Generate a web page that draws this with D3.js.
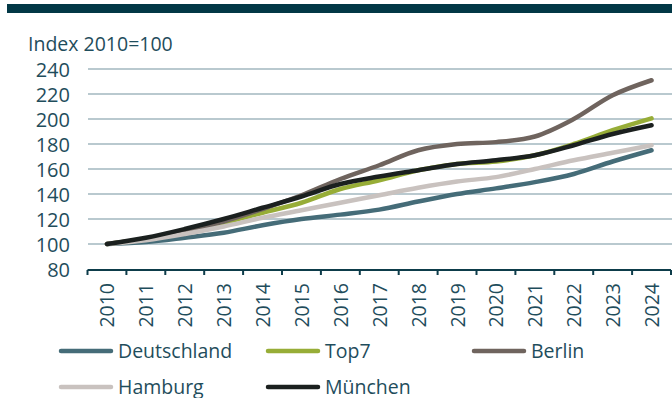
<!DOCTYPE html>
<html>
<head>
<meta charset="utf-8">
<script src="https://cdn.jsdelivr.net/npm/d3@7"></script>
<style>
  html, body { margin: 0; padding: 0; background: #fff; }
  svg { display: block; font-family: "Open Sans", sans-serif; }
</style>
</head>
<body>
<svg id="chart" width="672" height="398"></svg>
<script>
// Price index per market, 2010 = 100
const years = ["2010","2011","2012","2013","2014","2015","2016","2017","2018","2019","2020","2021","2022","2023","2024"];
const deutschland = [100, 101.5, 105, 109, 115, 120, 123.5, 127.5, 134, 140, 144.5, 149.5, 156, 166, 175];
const top7        = [100, 104, 110, 117, 125, 133, 144, 151, 159, 164, 166, 171, 180, 191, 200.5];
const berlin      = [100, 104, 110, 118, 128, 139, 152, 163, 175, 180, 181.5, 186, 200, 219, 231];
const hamburg     = [100, 103, 108, 114, 121, 127, 133, 139, 145, 150, 153.5, 160, 167, 173, 179];
const muenchen    = [100, 105, 112, 120, 129, 138, 148, 154, 159, 164, 167, 171, 179, 188, 195];
const yTicks = [80, 100, 120, 140, 160, 180, 200, 220, 240];

const seriesNames  = ["Deutschland", "Top7", "Berlin", "Hamburg", "München"];
const seriesValues = [deutschland, top7, berlin, hamburg, muenchen];
const seriesColors = ["#456c78", "#97ad37", "#6f645e", "#c9c2bf", "#1b201f"];

const svg = d3.select("#chart");
const textColor = "#1f4d5c";

// header band
svg.append("rect").attr("x", 7).attr("y", 4).attr("width", 665).attr("height", 9).attr("fill", "#023846");

// axis title
svg.append("text").attr("x", 28).attr("y", 51)
  .attr("font-size", 19.5).attr("fill", textColor).text("Index 2010=100");

const x = d3.scaleBand().domain(years).range([87.5, 671]);
const y = d3.scaleLinear().domain([80, 240]).range([269, 69]);

// gridlines
svg.append("g").selectAll("line").data(yTicks.filter(d => d > 80)).join("line")
  .attr("x1", 88).attr("x2", 672)
  .attr("y1", d => y(d)).attr("y2", d => y(d))
  .attr("stroke", "#a2b7bf").attr("stroke-width", 1.4);

// y tick labels
svg.append("g").selectAll("text").data(yTicks).join("text")
  .attr("x", 70).attr("y", d => y(d))
  .attr("text-anchor", "end").attr("dominant-baseline", "central")
  .attr("font-size", 20).attr("fill", textColor)
  .text(d => d);

// x axis with ticks at band edges
const xAxis = svg.append("g");
xAxis.append("line").attr("x1", 87.5).attr("x2", 671).attr("y1", 270).attr("y2", 270)
  .attr("stroke", "#0d3c4a").attr("stroke-width", 2);
const edges = years.map(d => x(d)).concat([x(years[years.length - 1]) + x.bandwidth()]);
xAxis.selectAll("line.tick").data(edges).join("line").attr("class", "tick")
  .attr("x1", d => d).attr("x2", d => d).attr("y1", 270).attr("y2", 275)
  .attr("stroke", "#0d3c4a").attr("stroke-width", 2);
xAxis.selectAll("text").data(years).join("text")
  .attr("transform", d => `translate(${x(d) + x.bandwidth() / 2},283) rotate(-90)`)
  .attr("text-anchor", "end").attr("dominant-baseline", "central")
  .attr("font-size", 19.5).attr("fill", textColor)
  .text(d => d);

// series lines
const line = d3.line()
  .x((d, i) => x(years[i]) + x.bandwidth() / 2)
  .y(d => y(d))
  .curve(d3.curveCatmullRom.alpha(0.5));

svg.append("g").selectAll("path").data(seriesValues).join("path")
  .attr("d", d => line(d))
  .attr("fill", "none")
  .attr("stroke", (d, i) => seriesColors[i])
  .attr("stroke-width", 4.5)
  .attr("stroke-linecap", "round")
  .attr("stroke-linejoin", "round");

// legend
const legendPos = [[59, 351], [266, 351], [472, 351], [59, 387], [266, 387]];
const legend = svg.append("g").selectAll("g").data(seriesNames).join("g")
  .attr("transform", (d, i) => `translate(${legendPos[i][0]},${legendPos[i][1]})`);
legend.append("line").attr("x1", 2).attr("x2", 52).attr("y1", 0).attr("y2", 0)
  .attr("stroke", (d, i) => seriesColors[i]).attr("stroke-width", 4.5)
  .attr("stroke-linecap", "round");
legend.append("text").attr("x", 59).attr("y", 7)
  .attr("font-size", 19.5).attr("fill", textColor)
  .text(d => d);
</script>
</body>
</html>
